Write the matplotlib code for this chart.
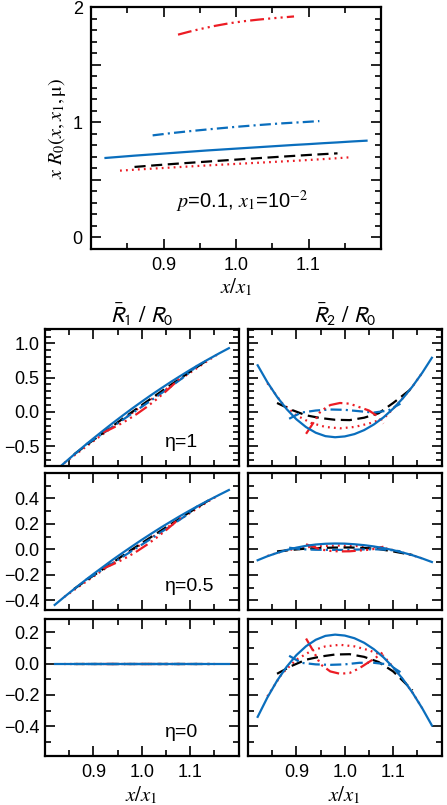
import matplotlib
matplotlib.use("Agg")
import matplotlib.pyplot as plt
from matplotlib.ticker import FixedLocator, MultipleLocator, FuncFormatter

plt.rcParams['font.family'] = ['Liberation Sans', 'DejaVu Sans']
plt.rcParams['mathtext.fontset'] = 'stix'
plt.rcParams['lines.scale_dashes'] = False

BLUE = '#0a6ebd'
RED = '#ec1c24'

# x support of each curve (x/x1)
x_solid = [0.82, 0.84, 0.86, 0.88, 0.90, 0.92, 0.94, 0.96, 0.98, 1.00,
           1.02, 1.04, 1.06, 1.08, 1.10, 1.12, 1.14, 1.16, 1.18]
x_dot = [0.84, 0.87, 0.90, 0.93, 0.96, 0.99, 1.02, 1.05, 1.08, 1.11, 1.14, 1.16]
x_dash = [0.86, 0.89, 0.92, 0.95, 0.98, 1.01, 1.04, 1.07, 1.10, 1.14]
x_dd = [0.885, 0.91, 0.94, 0.97, 1.00, 1.03, 1.06, 1.09, 1.115]
x_ddd = [0.92, 0.935, 0.95, 0.97, 0.99, 1.01, 1.03, 1.05, 1.065, 1.08]

# top panel: x R0
top_solid = [0.690, 0.700, 0.710, 0.719, 0.728, 0.737, 0.746, 0.755, 0.763, 0.771,
             0.779, 0.787, 0.795, 0.803, 0.810, 0.818, 0.825, 0.833, 0.840]
top_dot = [0.580, 0.592, 0.603, 0.614, 0.625, 0.635, 0.645, 0.655, 0.665, 0.676, 0.688, 0.697]
top_dash = [0.612, 0.627, 0.641, 0.654, 0.667, 0.680, 0.692, 0.704, 0.716, 0.730]
top_dd = [0.886, 0.905, 0.925, 0.943, 0.960, 0.975, 0.989, 1.000, 1.010]
top_ddd = [1.760, 1.785, 1.808, 1.835, 1.858, 1.876, 1.890, 1.902, 1.910, 1.918]

# R1/R0, eta = 1, 0.5, 0
r1_e1_solid = [-0.87, -0.745, -0.623, -0.503, -0.387, -0.274, -0.163, -0.056, 0.049, 0.15,
               0.249, 0.344, 0.437, 0.526, 0.613, 0.697, 0.777, 0.855, 0.93]
r1_e1_dot = [-0.745, -0.585, -0.427, -0.271, -0.117, 0.035, 0.185, 0.332, 0.477, 0.621, 0.764, 0.855]
r1_e1_dash = [-0.62, -0.462, -0.308, -0.154, -0.001, 0.149, 0.297, 0.443, 0.588, 0.777]
r1_e1_dd = [-0.474, -0.36, -0.215, -0.07, 0.075, 0.22, 0.37, 0.525, 0.676]
r1_e1_ddd = [-0.30, -0.252, -0.199, -0.119, -0.029, 0.071, 0.181, 0.301, 0.398, 0.50]

r1_e05_solid = [-0.435, -0.372, -0.311, -0.251, -0.193, -0.137, -0.081, -0.028, 0.024, 0.075,
                0.124, 0.172, 0.218, 0.263, 0.306, 0.348, 0.388, 0.427, 0.465]
r1_e05_dot = [-0.372, -0.292, -0.213, -0.135, -0.058, 0.018, 0.092, 0.166, 0.238, 0.31, 0.382, 0.427]
r1_e05_dash = [-0.31, -0.231, -0.154, -0.077, 0.0, 0.074, 0.148, 0.221, 0.294, 0.388]
r1_e05_dd = [-0.237, -0.18, -0.107, -0.035, 0.037, 0.11, 0.185, 0.262, 0.338]
r1_e05_ddd = [-0.15, -0.126, -0.10, -0.06, -0.015, 0.035, 0.09, 0.15, 0.199, 0.25]

r1_e0_solid = [0.0] * 19
r1_e0_dot = [0.0] * 12
r1_e0_dash = [0.0] * 10
r1_e0_dd = [0.0] * 9
r1_e0_ddd = [0.0] * 10

# R2/R0, eta = 1, 0.5, 0
r2_e1_solid = [0.68, 0.434, 0.22, 0.04, -0.108, -0.222, -0.304, -0.354, -0.37, -0.358,
               -0.324, -0.266, -0.184, -0.08, 0.048, 0.198, 0.372, 0.57, 0.79]
r2_e1_dot = [0.42, 0.13, -0.05, -0.16, -0.22, -0.24, -0.22, -0.17, -0.10, 0.12, 0.37, 0.57]
r2_e1_dash = [0.13, 0.03, -0.05, -0.09, -0.115, -0.12, -0.085, -0.02, 0.13, 0.35]
r2_e1_dd = [-0.10, -0.01, 0.02, 0.035, 0.03, 0.01, -0.01, 0.02, 0.12]
r2_e1_ddd = [-0.32, -0.16, 0.01, 0.10, 0.13, 0.12, 0.07, 0.02, -0.05, -0.17]

r2_e05_solid = [-0.085, -0.054, -0.028, -0.005, 0.0135, 0.028, 0.038, 0.044, 0.046, 0.045,
                0.040, 0.033, 0.023, 0.010, -0.006, -0.025, -0.046, -0.071, -0.099]
r2_e05_dot = [-0.052, -0.016, 0.006, 0.020, 0.027, 0.030, 0.027, 0.021, 0.012, -0.015, -0.046, -0.071]
r2_e05_dash = [-0.016, -0.004, 0.006, 0.011, 0.014, 0.015, 0.011, 0.003, -0.016, -0.044]
r2_e05_dd = [0.013, 0.001, -0.003, -0.004, -0.004, -0.001, 0.001, -0.003, -0.015]
r2_e05_ddd = [0.040, 0.020, -0.001, -0.012, -0.016, -0.015, -0.009, -0.003, 0.006, 0.021]

r2_e0_solid = [-0.34, -0.217, -0.11, -0.02, 0.054, 0.111, 0.152, 0.177, 0.185, 0.179,
               0.162, 0.133, 0.092, 0.04, -0.024, -0.099, -0.186, -0.285, -0.395]
r2_e0_dot = [-0.21, -0.065, 0.025, 0.08, 0.11, 0.12, 0.11, 0.085, 0.05, -0.06, -0.185, -0.285]
r2_e0_dash = [-0.065, -0.015, 0.025, 0.045, 0.058, 0.06, 0.043, 0.01, -0.05, -0.17]
r2_e0_dd = [0.05, 0.005, -0.005, -0.008, -0.005, 0.005, 0.005, -0.005, -0.055]
r2_e0_ddd = [0.16, 0.08, -0.005, -0.05, -0.065, -0.06, -0.03, 0.01, 0.04, 0.075]

eta_labels = ['η=1', 'η=0.5', 'η=0']
row_ylims = [(-0.79, 1.21), (-0.475, 0.598), (-0.59, 0.285)]
row_major = [0.5, 0.2, 0.2]

xs = [x_dot, x_dash, x_dd, x_ddd, x_solid]
looks = [(RED, (0, (1.3, 3.0))),
         ('black', (0, (8, 4))),
         (BLUE, (0, (8, 3, 1.5, 3))),
         (RED, (0, (10, 3, 1.5, 3, 1.5, 3, 1.5, 3))),
         (BLUE, '-')]


def draw(ax, ys):
    for x, y, (c, ls) in zip(xs, ys, looks):
        ax.plot(x, y, color=c, ls=ls, lw=1.6)


def style(ax):
    ax.set_xlim(0.8, 1.2)
    ax.xaxis.set_major_locator(FixedLocator([0.9, 1.0, 1.1]))
    ax.xaxis.set_minor_locator(FixedLocator([0.85, 0.95, 1.05, 1.15]))
    ax.tick_params(which='both', direction='in', top=True, right=True,
                   width=1.2, labelsize=13)
    ax.tick_params(which='major', length=7)
    ax.tick_params(which='minor', length=4)
    ax.tick_params(axis='x', pad=6)
    ax.tick_params(axis='y', pad=4)
    for s in ax.spines.values():
        s.set_linewidth(1.6)


def xlab(ax, ypos):
    ax.set_xlabel(r'$x/x_1$', fontsize=15)
    ax.xaxis.label.set_va('center')
    ax.xaxis.set_label_coords(0.5, ypos)


fig = plt.figure(figsize=(4.47, 8.05), dpi=100)

# top panel
ax = fig.add_axes([0.2036, 0.6907, 0.6488, 0.3006])
draw(ax, [top_dot, top_dash, top_dd, top_ddd, top_solid])
style(ax)
ax.set_ylim(-0.1, 2.0)
ax.yaxis.set_major_locator(MultipleLocator(0.5))
ax.yaxis.set_minor_locator(MultipleLocator(0.1))
ax.yaxis.set_major_formatter(FuncFormatter(lambda v, p: '%d' % v if abs(v - round(v)) < 1e-6 else ''))
ax.tick_params(axis='y', pad=6)
ax.set_ylabel(r'$x\ R_0(x,x_1,\mathrm{\mu})$', fontsize=14.5)
ax.yaxis.label.set_va('center')
ax.yaxis.set_label_coords(-0.117, 0.5)
xlab(ax, -0.157)
ax.text(0.52, 0.194, r'$p$=0.1, $x_1$=10$^{-2}$', transform=ax.transAxes,
        ha='center', va='center', fontsize=14.5)

# bottom grid
lefts = [0.1007, 0.5548]
width = 0.4330
bottoms = [0.4211, 0.2422, 0.0609]
height = 0.1702
r1_rows = [[r1_e1_dot, r1_e1_dash, r1_e1_dd, r1_e1_ddd, r1_e1_solid],
           [r1_e05_dot, r1_e05_dash, r1_e05_dd, r1_e05_ddd, r1_e05_solid],
           [r1_e0_dot, r1_e0_dash, r1_e0_dd, r1_e0_ddd, r1_e0_solid]]
r2_rows = [[r2_e1_dot, r2_e1_dash, r2_e1_dd, r2_e1_ddd, r2_e1_solid],
           [r2_e05_dot, r2_e05_dash, r2_e05_dd, r2_e05_ddd, r2_e05_solid],
           [r2_e0_dot, r2_e0_dash, r2_e0_dd, r2_e0_ddd, r2_e0_solid]]

for i in range(3):
    for j, rows in enumerate([r1_rows, r2_rows]):
        ax = fig.add_axes([lefts[j], bottoms[i], width, height])
        draw(ax, rows[i])
        style(ax)
        ax.set_ylim(*row_ylims[i])
        ax.yaxis.set_major_locator(MultipleLocator(row_major[i]))
        ax.yaxis.set_minor_locator(MultipleLocator(0.1))
        if j == 1:
            ax.tick_params(axis='y', labelleft=False)
        else:
            ax.text(0.62, 0.17, eta_labels[i], transform=ax.transAxes,
                    ha='left', va='center', fontsize=14)
        if i < 2:
            ax.tick_params(axis='x', labelbottom=False)
        else:
            xlab(ax, -0.285)
        if i == 0:
            t = [r'$\bar{\mathsf{R}}_\mathsf{1}\ /\ \mathsf{R}_\mathsf{0}$',
                 r'$\bar{\mathsf{R}}_\mathsf{2}\ /\ \mathsf{R}_\mathsf{0}$'][j]
            ax.text(0.5, 1.1, t, transform=ax.transAxes, ha='center',
                    va='center', fontsize=16.5)

fig.savefig('out.png', dpi=100)
